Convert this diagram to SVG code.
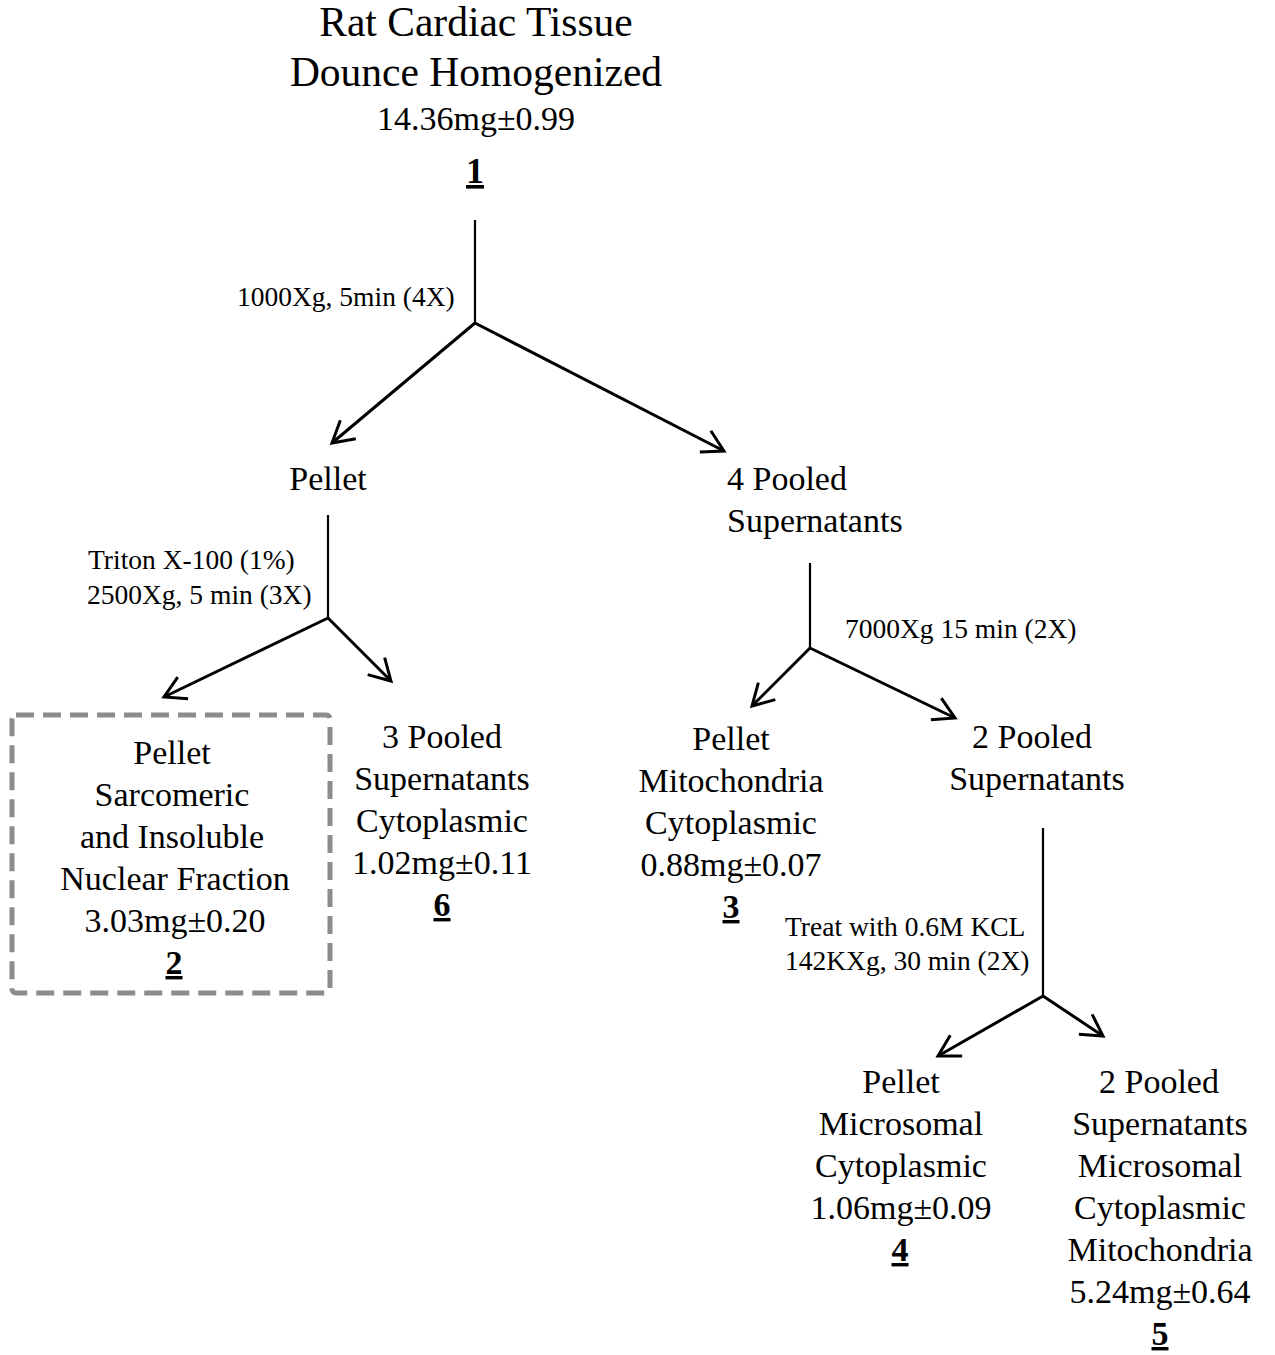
<svg xmlns="http://www.w3.org/2000/svg" width="1275" height="1355" viewBox="0 0 1275 1355">
<style>
text{font-family:"Liberation Serif","Times New Roman",serif;fill:#000;text-anchor:middle}
.t{font-size:41.5px}
.n{font-size:34px}
.e{font-size:27.5px;text-anchor:start}
.num{font-weight:bold;text-decoration:underline}
.c{stroke:#000;stroke-width:3;fill:none}
.v{stroke:#000;stroke-width:2.2;fill:none}
</style>
<defs>
<marker id="arr" markerUnits="userSpaceOnUse" viewBox="-26 -16 30 32" refX="0" refY="0" markerWidth="30" markerHeight="32" orient="auto">
<path d="M-21,-12 L0,0 L-21,12" fill="none" stroke="#000" stroke-width="3"/>
</marker>
</defs>
<rect width="1275" height="1355" fill="#fff"/>
<g id="connectors">
<line class="v" x1="475" y1="220" x2="475" y2="323"/>
<line class="c" x1="475" y1="323" x2="332" y2="443" marker-end="url(#arr)"/>
<line class="c" x1="475" y1="323" x2="724" y2="451" marker-end="url(#arr)"/>
<line class="v" x1="328" y1="515" x2="328" y2="618"/>
<line class="c" x1="328" y1="618" x2="164" y2="697" marker-end="url(#arr)"/>
<line class="c" x1="328" y1="618" x2="391" y2="681" marker-end="url(#arr)"/>
<line class="v" x1="810" y1="563" x2="810" y2="648"/>
<line class="c" x1="810" y1="648" x2="752" y2="706" marker-end="url(#arr)"/>
<line class="c" x1="810" y1="648" x2="955" y2="718" marker-end="url(#arr)"/>
<line class="v" x1="1043" y1="828" x2="1043" y2="996"/>
<line class="c" x1="1043" y1="996" x2="938" y2="1056" marker-end="url(#arr)"/>
<line class="c" x1="1043" y1="996" x2="1103" y2="1036" marker-end="url(#arr)"/>
<text class="e" x="237" y="306">1000Xg, 5min (4X)</text>
<text class="e" x="88" y="569">Triton X-100 (1%)</text>
<text class="e" x="87" y="604">2500Xg, 5 min (3X)</text>
<text class="e" x="845" y="638">7000Xg 15 min (2X)</text>
<text class="e" x="785" y="936">Treat with 0.6M KCL</text>
<text class="e" x="785" y="970">142KXg, 30 min (2X)</text>
</g>
<g id="node1">
<text class="t" x="476" y="36">Rat Cardiac Tissue</text>
<text class="t" x="476" y="86">Dounce Homogenized</text>
<text class="n" x="476" y="130">14.36mg±0.99</text>
<text class="n num" x="475" y="183" style="font-size:36px">1</text>
</g>
<g id="pellet1">
<text class="n" x="328" y="490">Pellet</text>
</g>
<g id="sup4">
<text class="n" x="727" y="490" style="text-anchor:start">4 Pooled</text>
<text class="n" x="727" y="532" style="text-anchor:start">Supernatants</text>
</g>
<g id="node2">
<rect x="12" y="715" width="318" height="278" rx="4" fill="none" stroke="#8c8c8c" stroke-width="5" stroke-dasharray="18 9"/>
<text class="n" x="172" y="764">Pellet</text>
<text class="n" x="172" y="806">Sarcomeric</text>
<text class="n" x="172" y="848">and Insoluble</text>
<text class="n" x="175" y="890">Nuclear Fraction</text>
<text class="n" x="175" y="932">3.03mg±0.20</text>
<text class="n num" x="174" y="974">2</text>
</g>
<g id="node6">
<text class="n" x="442" y="748">3 Pooled</text>
<text class="n" x="442" y="790">Supernatants</text>
<text class="n" x="442" y="832">Cytoplasmic</text>
<text class="n" x="442" y="874">1.02mg±0.11</text>
<text class="n num" x="442" y="916">6</text>
</g>
<g id="node3">
<text class="n" x="731" y="750">Pellet</text>
<text class="n" x="731" y="792">Mitochondria</text>
<text class="n" x="731" y="834">Cytoplasmic</text>
<text class="n" x="731" y="876">0.88mg±0.07</text>
<text class="n num" x="731" y="918">3</text>
</g>
<g id="sup2">
<text class="n" x="1032" y="748">2 Pooled</text>
<text class="n" x="1037" y="790">Supernatants</text>
</g>
<g id="node4">
<text class="n" x="901" y="1093">Pellet</text>
<text class="n" x="901" y="1135">Microsomal</text>
<text class="n" x="901" y="1177">Cytoplasmic</text>
<text class="n" x="901" y="1219">1.06mg±0.09</text>
<text class="n num" x="900" y="1261">4</text>
</g>
<g id="node5">
<text class="n" x="1159" y="1093">2 Pooled</text>
<text class="n" x="1160" y="1135">Supernatants</text>
<text class="n" x="1160" y="1177">Microsomal</text>
<text class="n" x="1160" y="1219">Cytoplasmic</text>
<text class="n" x="1160" y="1261">Mitochondria</text>
<text class="n" x="1160" y="1303">5.24mg±0.64</text>
<text class="n num" x="1160" y="1345">5</text>
</g>
</svg>
